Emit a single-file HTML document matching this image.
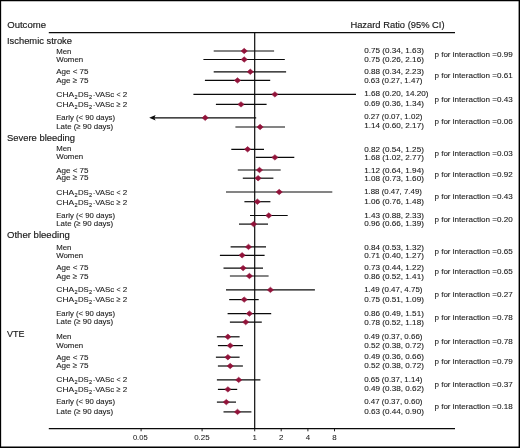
<!DOCTYPE html>
<html lang="en"><head><meta charset="utf-8"><title>Hazard Ratio forest plot</title>
<style>html,body{margin:0;padding:0;background:#fff}body{width:520px;height:448px;overflow:hidden}svg{display:block}text{font-family:"Liberation Sans",Arial,Helvetica,sans-serif;fill:#1a1a1a;stroke:#1a1a1a;stroke-width:0.1px}.h{font-size:9.3px;stroke-width:0.16px}.s{font-size:8.05px}.sub{font-size:5.6px}.ax{font-size:7.9px;stroke-width:0.05px}.ln{stroke:#0a0a0a;stroke-width:1.2}.m{fill:#92133a;stroke:#92133a;stroke-width:0.6;stroke-linejoin:round}</style></head><body>
<svg width="520" height="448" viewBox="0 0 520 448">
<rect x="0" y="0" width="520" height="448" fill="#fff"/>
<path d="M0 0H520V448H0Z M1.15 1.15V446.55H518.6V1.15Z" fill="#000" fill-rule="evenodd"/>
<text class="h" x="7.2" y="27.8" textLength="38.8" lengthAdjust="spacingAndGlyphs">Outcome</text>
<text class="h" x="350.4" y="27.7" textLength="94.2" lengthAdjust="spacingAndGlyphs">Hazard Ratio (95% CI)</text>
<line class="ln" x1="48.8" y1="32.7" x2="455" y2="32.7" style="stroke-width:1.3"/>
<line class="ln" x1="48.8" y1="428.6" x2="455" y2="428.6" style="stroke-width:1.3"/>
<line class="ln" x1="254.7" y1="32.7" x2="254.7" y2="428.6" style="stroke-width:1.2"/>
<line class="ln" x1="141.1" y1="428.6" x2="141.1" y2="431.3" style="stroke-width:0.9"/>
<text class="ax" x="132.9" y="440.4" textLength="14.8" lengthAdjust="spacingAndGlyphs">0.05</text>
<line class="ln" x1="202.1" y1="428.6" x2="202.1" y2="431.3" style="stroke-width:0.9"/>
<text class="ax" x="194.2" y="440.4" textLength="15.5" lengthAdjust="spacingAndGlyphs">0.25</text>
<line class="ln" x1="254.7" y1="428.6" x2="254.7" y2="431.3" style="stroke-width:0.9"/>
<text class="ax" x="254.7" y="440.4" text-anchor="middle">1</text>
<line class="ln" x1="281.2" y1="428.6" x2="281.2" y2="431.3" style="stroke-width:0.9"/>
<text class="ax" x="281.2" y="440.4" text-anchor="middle">2</text>
<line class="ln" x1="307.9" y1="428.6" x2="307.9" y2="431.3" style="stroke-width:0.9"/>
<text class="ax" x="307.9" y="440.4" text-anchor="middle">4</text>
<line class="ln" x1="334.5" y1="428.6" x2="334.5" y2="431.3" style="stroke-width:0.9"/>
<text class="ax" x="334.5" y="440.4" text-anchor="middle">8</text>
<text class="h" x="7.0" y="43.6" textLength="65.0" lengthAdjust="spacingAndGlyphs">Ischemic stroke</text>
<text class="s" x="56.2" y="53.7" textLength="15.2" lengthAdjust="spacingAndGlyphs">Men</text>
<line class="ln" x1="213.7" y1="51.0" x2="274.1" y2="51.0"/>
<polygon class="m" points="241.1,51.0 244.2,48.3 247.3,51.0 244.2,53.7"/>
<text class="s" x="364.2" y="53.3" textLength="59.7" lengthAdjust="spacingAndGlyphs">0.75 (0.34, 1.63)</text>
<text class="s" x="56.2" y="61.5" textLength="27.0" lengthAdjust="spacingAndGlyphs">Women</text>
<line class="ln" x1="203.4" y1="59.5" x2="284.8" y2="59.5"/>
<polygon class="m" points="241.1,59.5 244.2,56.8 247.3,59.5 244.2,62.2"/>
<text class="s" x="364.2" y="61.5" textLength="59.7" lengthAdjust="spacingAndGlyphs">0.75 (0.26, 2.16)</text>
<text class="s" x="56.2" y="74.2" textLength="32.3" lengthAdjust="spacingAndGlyphs">Age &lt; 75</text>
<line class="ln" x1="213.7" y1="71.8" x2="286.1" y2="71.8"/>
<polygon class="m" points="247.2,71.8 250.3,69.1 253.4,71.8 250.3,74.5"/>
<text class="s" x="364.2" y="74.2" textLength="59.7" lengthAdjust="spacingAndGlyphs">0.88 (0.34, 2.23)</text>
<text class="s" x="56.2" y="82.7" textLength="32.3" lengthAdjust="spacingAndGlyphs">Age ≥ 75</text>
<line class="ln" x1="204.9" y1="80.4" x2="270.2" y2="80.4"/>
<polygon class="m" points="234.4,80.4 237.5,77.7 240.6,80.4 237.5,83.1"/>
<text class="s" x="364.2" y="82.7" textLength="58.3" lengthAdjust="spacingAndGlyphs">0.63 (0.27, 1.47)</text>
<text class="s" x="56.3" y="96.9" textLength="17.9" lengthAdjust="spacingAndGlyphs">CHA</text>
<text class="sub" x="74.4" y="98.9" textLength="3.1" lengthAdjust="spacingAndGlyphs">2</text>
<text class="s" x="78.0" y="96.9" textLength="10.8" lengthAdjust="spacingAndGlyphs">DS</text>
<text class="sub" x="89.0" y="98.9" textLength="3.1" lengthAdjust="spacingAndGlyphs">2</text>
<text class="s" x="93.3" y="96.9" textLength="1.8" lengthAdjust="spacingAndGlyphs">-</text>
<text class="s" x="95.2" y="96.9" textLength="19.1" lengthAdjust="spacingAndGlyphs">VASc</text>
<text class="s" x="116.6" y="96.9" textLength="4.0" lengthAdjust="spacingAndGlyphs">&lt;</text>
<text class="s" x="122.7" y="96.9" textLength="4.5" lengthAdjust="spacingAndGlyphs">2</text>
<line class="ln" x1="193.4" y1="94.4" x2="356.0" y2="94.4"/>
<polygon class="m" points="271.8,94.4 274.9,91.7 278.0,94.4 274.9,97.1"/>
<text class="s" x="364.2" y="95.9" textLength="64.3" lengthAdjust="spacingAndGlyphs">1.68 (0.20, 14.20)</text>
<text class="s" x="56.3" y="107.0" textLength="17.9" lengthAdjust="spacingAndGlyphs">CHA</text>
<text class="sub" x="74.4" y="109.0" textLength="3.1" lengthAdjust="spacingAndGlyphs">2</text>
<text class="s" x="78.0" y="107.0" textLength="10.8" lengthAdjust="spacingAndGlyphs">DS</text>
<text class="sub" x="89.0" y="109.0" textLength="3.1" lengthAdjust="spacingAndGlyphs">2</text>
<text class="s" x="93.3" y="107.0" textLength="1.8" lengthAdjust="spacingAndGlyphs">-</text>
<text class="s" x="95.2" y="107.0" textLength="19.1" lengthAdjust="spacingAndGlyphs">VASc</text>
<text class="s" x="116.6" y="107.0" textLength="4.0" lengthAdjust="spacingAndGlyphs">≥</text>
<text class="s" x="122.7" y="107.0" textLength="4.5" lengthAdjust="spacingAndGlyphs">2</text>
<line class="ln" x1="215.9" y1="104.4" x2="266.6" y2="104.4"/>
<polygon class="m" points="237.9,104.4 241.0,101.7 244.1,104.4 241.0,107.1"/>
<text class="s" x="364.2" y="106.3" textLength="59.7" lengthAdjust="spacingAndGlyphs">0.69 (0.36, 1.34)</text>
<text class="s" x="56.2" y="120.4" textLength="58.8" lengthAdjust="spacingAndGlyphs">Early (&lt; 90 days)</text>
<polygon points="149.2,117.8 155.6,115.1 154.4,117.8 155.6,120.5" fill="#111"/>
<line class="ln" x1="152.5" y1="117.8" x2="256.2" y2="117.8"/>
<polygon class="m" points="202.1,117.8 205.2,115.1 208.3,117.8 205.2,120.5"/>
<text class="s" x="364.2" y="119.4" textLength="58.3" lengthAdjust="spacingAndGlyphs">0.27 (0.07, 1.02)</text>
<text class="s" x="56.2" y="128.9" textLength="56.9" lengthAdjust="spacingAndGlyphs">Late (≥ 90 days)</text>
<line class="ln" x1="235.4" y1="127.0" x2="285.0" y2="127.0"/>
<polygon class="m" points="257.0,127.0 260.1,124.3 263.2,127.0 260.1,129.7"/>
<text class="s" x="364.2" y="128.3" textLength="59.7" lengthAdjust="spacingAndGlyphs">1.14 (0.60, 2.17)</text>
<text class="s" x="434.4" y="57.3" textLength="78.4" lengthAdjust="spacingAndGlyphs">p for interaction =0.99</text>
<text class="s" x="434.4" y="77.8" textLength="78.4" lengthAdjust="spacingAndGlyphs">p for interaction =0.61</text>
<text class="s" x="434.4" y="101.7" textLength="78.4" lengthAdjust="spacingAndGlyphs">p for interaction =0.43</text>
<text class="s" x="434.4" y="124.2" textLength="78.4" lengthAdjust="spacingAndGlyphs">p for interaction =0.06</text>
<text class="h" x="7.0" y="141.3" textLength="68.0" lengthAdjust="spacingAndGlyphs">Severe bleeding</text>
<text class="s" x="56.2" y="151.2" textLength="15.2" lengthAdjust="spacingAndGlyphs">Men</text>
<line class="ln" x1="231.3" y1="149.3" x2="264.0" y2="149.3"/>
<polygon class="m" points="244.5,149.3 247.6,146.6 250.7,149.3 247.6,152.0"/>
<text class="s" x="364.2" y="151.6" textLength="59.7" lengthAdjust="spacingAndGlyphs">0.82 (0.54, 1.25)</text>
<text class="s" x="56.2" y="159.2" textLength="27.0" lengthAdjust="spacingAndGlyphs">Women</text>
<line class="ln" x1="255.6" y1="157.4" x2="294.3" y2="157.4"/>
<polygon class="m" points="271.8,157.4 274.9,154.7 278.0,157.4 274.9,160.1"/>
<text class="s" x="364.2" y="159.5" textLength="59.7" lengthAdjust="spacingAndGlyphs">1.68 (1.02, 2.77)</text>
<text class="s" x="56.2" y="172.8" textLength="32.3" lengthAdjust="spacingAndGlyphs">Age &lt; 75</text>
<line class="ln" x1="237.8" y1="170.0" x2="280.7" y2="170.0"/>
<polygon class="m" points="256.4,170.0 259.5,167.3 262.6,170.0 259.5,172.7"/>
<text class="s" x="364.2" y="172.6" textLength="59.7" lengthAdjust="spacingAndGlyphs">1.12 (0.64, 1.94)</text>
<text class="s" x="56.2" y="180.3" textLength="32.3" lengthAdjust="spacingAndGlyphs">Age ≥ 75</text>
<line class="ln" x1="242.8" y1="178.2" x2="273.4" y2="178.2"/>
<polygon class="m" points="255.0,178.2 258.1,175.5 261.2,178.2 258.1,180.9"/>
<text class="s" x="364.2" y="181.1" textLength="59.7" lengthAdjust="spacingAndGlyphs">1.08 (0.73, 1.60)</text>
<text class="s" x="56.3" y="194.5" textLength="17.9" lengthAdjust="spacingAndGlyphs">CHA</text>
<text class="sub" x="74.4" y="196.5" textLength="3.1" lengthAdjust="spacingAndGlyphs">2</text>
<text class="s" x="78.0" y="194.5" textLength="10.8" lengthAdjust="spacingAndGlyphs">DS</text>
<text class="sub" x="89.0" y="196.5" textLength="3.1" lengthAdjust="spacingAndGlyphs">2</text>
<text class="s" x="93.3" y="194.5" textLength="1.8" lengthAdjust="spacingAndGlyphs">-</text>
<text class="s" x="95.2" y="194.5" textLength="19.1" lengthAdjust="spacingAndGlyphs">VASc</text>
<text class="s" x="116.6" y="194.5" textLength="4.0" lengthAdjust="spacingAndGlyphs">&lt;</text>
<text class="s" x="122.7" y="194.5" textLength="4.5" lengthAdjust="spacingAndGlyphs">2</text>
<line class="ln" x1="226.0" y1="192.0" x2="332.3" y2="192.0"/>
<polygon class="m" points="276.1,192.0 279.2,189.3 282.3,192.0 279.2,194.7"/>
<text class="s" x="364.2" y="194.2" textLength="57.7" lengthAdjust="spacingAndGlyphs">1.88 (0.47, 7.49)</text>
<text class="s" x="56.3" y="204.6" textLength="17.9" lengthAdjust="spacingAndGlyphs">CHA</text>
<text class="sub" x="74.4" y="206.6" textLength="3.1" lengthAdjust="spacingAndGlyphs">2</text>
<text class="s" x="78.0" y="204.6" textLength="10.8" lengthAdjust="spacingAndGlyphs">DS</text>
<text class="sub" x="89.0" y="206.6" textLength="3.1" lengthAdjust="spacingAndGlyphs">2</text>
<text class="s" x="93.3" y="204.6" textLength="1.8" lengthAdjust="spacingAndGlyphs">-</text>
<text class="s" x="95.2" y="204.6" textLength="19.1" lengthAdjust="spacingAndGlyphs">VASc</text>
<text class="s" x="116.6" y="204.6" textLength="4.0" lengthAdjust="spacingAndGlyphs">≥</text>
<text class="s" x="122.7" y="204.6" textLength="4.5" lengthAdjust="spacingAndGlyphs">2</text>
<line class="ln" x1="244.4" y1="201.7" x2="270.4" y2="201.7"/>
<polygon class="m" points="254.3,201.7 257.4,199.0 260.5,201.7 257.4,204.4"/>
<text class="s" x="364.2" y="203.8" textLength="59.7" lengthAdjust="spacingAndGlyphs">1.06 (0.76, 1.48)</text>
<text class="s" x="56.2" y="218.1" textLength="58.8" lengthAdjust="spacingAndGlyphs">Early (&lt; 90 days)</text>
<line class="ln" x1="250.0" y1="215.5" x2="287.7" y2="215.5"/>
<polygon class="m" points="265.7,215.5 268.8,212.8 271.9,215.5 268.8,218.2"/>
<text class="s" x="364.2" y="217.8" textLength="59.7" lengthAdjust="spacingAndGlyphs">1.43 (0.88, 2.33)</text>
<text class="s" x="56.2" y="225.5" textLength="56.9" lengthAdjust="spacingAndGlyphs">Late (≥ 90 days)</text>
<line class="ln" x1="239.0" y1="224.1" x2="268.0" y2="224.1"/>
<polygon class="m" points="250.5,224.1 253.6,221.4 256.7,224.1 253.6,226.8"/>
<text class="s" x="364.2" y="225.9" textLength="59.7" lengthAdjust="spacingAndGlyphs">0.96 (0.66, 1.39)</text>
<text class="s" x="434.4" y="156.1" textLength="78.4" lengthAdjust="spacingAndGlyphs">p for interaction =0.03</text>
<text class="s" x="434.4" y="176.7" textLength="78.4" lengthAdjust="spacingAndGlyphs">p for interaction =0.92</text>
<text class="s" x="434.4" y="199.4" textLength="78.4" lengthAdjust="spacingAndGlyphs">p for interaction =0.43</text>
<text class="s" x="434.4" y="221.8" textLength="78.4" lengthAdjust="spacingAndGlyphs">p for interaction =0.20</text>
<text class="h" x="7.0" y="237.6" textLength="62.8" lengthAdjust="spacingAndGlyphs">Other bleeding</text>
<text class="s" x="56.2" y="249.6" textLength="15.2" lengthAdjust="spacingAndGlyphs">Men</text>
<line class="ln" x1="230.6" y1="246.9" x2="266.0" y2="246.9"/>
<polygon class="m" points="245.4,246.9 248.5,244.2 251.6,246.9 248.5,249.6"/>
<text class="s" x="364.2" y="249.5" textLength="59.7" lengthAdjust="spacingAndGlyphs">0.84 (0.53, 1.32)</text>
<text class="s" x="56.2" y="257.6" textLength="27.0" lengthAdjust="spacingAndGlyphs">Women</text>
<line class="ln" x1="219.9" y1="255.3" x2="264.6" y2="255.3"/>
<polygon class="m" points="239.0,255.3 242.1,252.6 245.2,255.3 242.1,258.0"/>
<text class="s" x="364.2" y="257.9" textLength="59.7" lengthAdjust="spacingAndGlyphs">0.71 (0.40, 1.27)</text>
<text class="s" x="56.2" y="270.4" textLength="32.3" lengthAdjust="spacingAndGlyphs">Age &lt; 75</text>
<line class="ln" x1="223.5" y1="268.1" x2="263.0" y2="268.1"/>
<polygon class="m" points="240.0,268.1 243.1,265.4 246.2,268.1 243.1,270.8"/>
<text class="s" x="364.2" y="270.2" textLength="59.7" lengthAdjust="spacingAndGlyphs">0.73 (0.44, 1.22)</text>
<text class="s" x="56.2" y="278.6" textLength="32.3" lengthAdjust="spacingAndGlyphs">Age ≥ 75</text>
<line class="ln" x1="229.9" y1="276.0" x2="268.6" y2="276.0"/>
<polygon class="m" points="246.3,276.0 249.4,273.3 252.5,276.0 249.4,278.7"/>
<text class="s" x="364.2" y="278.5" textLength="59.7" lengthAdjust="spacingAndGlyphs">0.86 (0.52, 1.41)</text>
<text class="s" x="56.3" y="292.3" textLength="17.9" lengthAdjust="spacingAndGlyphs">CHA</text>
<text class="sub" x="74.4" y="294.3" textLength="3.1" lengthAdjust="spacingAndGlyphs">2</text>
<text class="s" x="78.0" y="292.3" textLength="10.8" lengthAdjust="spacingAndGlyphs">DS</text>
<text class="sub" x="89.0" y="294.3" textLength="3.1" lengthAdjust="spacingAndGlyphs">2</text>
<text class="s" x="93.3" y="292.3" textLength="1.8" lengthAdjust="spacingAndGlyphs">-</text>
<text class="s" x="95.2" y="292.3" textLength="19.1" lengthAdjust="spacingAndGlyphs">VASc</text>
<text class="s" x="116.6" y="292.3" textLength="4.0" lengthAdjust="spacingAndGlyphs">&lt;</text>
<text class="s" x="122.7" y="292.3" textLength="4.5" lengthAdjust="spacingAndGlyphs">2</text>
<line class="ln" x1="226.0" y1="289.9" x2="314.9" y2="289.9"/>
<polygon class="m" points="267.3,289.9 270.4,287.2 273.5,289.9 270.4,292.6"/>
<text class="s" x="364.2" y="292.1" textLength="58.3" lengthAdjust="spacingAndGlyphs">1.49 (0.47, 4.75)</text>
<text class="s" x="56.3" y="302.4" textLength="17.9" lengthAdjust="spacingAndGlyphs">CHA</text>
<text class="sub" x="74.4" y="304.4" textLength="3.1" lengthAdjust="spacingAndGlyphs">2</text>
<text class="s" x="78.0" y="302.4" textLength="10.8" lengthAdjust="spacingAndGlyphs">DS</text>
<text class="sub" x="89.0" y="304.4" textLength="3.1" lengthAdjust="spacingAndGlyphs">2</text>
<text class="s" x="93.3" y="302.4" textLength="1.8" lengthAdjust="spacingAndGlyphs">-</text>
<text class="s" x="95.2" y="302.4" textLength="19.1" lengthAdjust="spacingAndGlyphs">VASc</text>
<text class="s" x="116.6" y="302.4" textLength="4.0" lengthAdjust="spacingAndGlyphs">≥</text>
<text class="s" x="122.7" y="302.4" textLength="4.5" lengthAdjust="spacingAndGlyphs">2</text>
<line class="ln" x1="229.2" y1="299.6" x2="258.7" y2="299.6"/>
<polygon class="m" points="241.1,299.6 244.2,296.9 247.3,299.6 244.2,302.3"/>
<text class="s" x="364.2" y="302.1" textLength="59.7" lengthAdjust="spacingAndGlyphs">0.75 (0.51, 1.09)</text>
<text class="s" x="56.2" y="315.6" textLength="58.8" lengthAdjust="spacingAndGlyphs">Early (&lt; 90 days)</text>
<line class="ln" x1="227.6" y1="313.6" x2="271.2" y2="313.6"/>
<polygon class="m" points="246.3,313.6 249.4,310.9 252.5,313.6 249.4,316.3"/>
<text class="s" x="364.2" y="315.6" textLength="59.7" lengthAdjust="spacingAndGlyphs">0.86 (0.49, 1.51)</text>
<text class="s" x="56.2" y="324.3" textLength="56.9" lengthAdjust="spacingAndGlyphs">Late (≥ 90 days)</text>
<line class="ln" x1="229.9" y1="322.1" x2="261.8" y2="322.1"/>
<polygon class="m" points="242.6,322.1 245.7,319.4 248.8,322.1 245.7,324.8"/>
<text class="s" x="364.2" y="324.5" textLength="59.7" lengthAdjust="spacingAndGlyphs">0.78 (0.52, 1.18)</text>
<text class="s" x="434.4" y="253.8" textLength="78.4" lengthAdjust="spacingAndGlyphs">p for interaction =0.65</text>
<text class="s" x="434.4" y="274.3" textLength="78.4" lengthAdjust="spacingAndGlyphs">p for interaction =0.65</text>
<text class="s" x="434.4" y="296.9" textLength="78.4" lengthAdjust="spacingAndGlyphs">p for interaction =0.27</text>
<text class="s" x="434.4" y="320.4" textLength="78.4" lengthAdjust="spacingAndGlyphs">p for interaction =0.78</text>
<text class="h" x="7.0" y="336.5" textLength="17.4" lengthAdjust="spacingAndGlyphs">VTE</text>
<text class="s" x="56.2" y="339.2" textLength="15.2" lengthAdjust="spacingAndGlyphs">Men</text>
<line class="ln" x1="216.9" y1="336.8" x2="239.6" y2="336.8"/>
<polygon class="m" points="224.8,336.8 227.9,334.1 231.0,336.8 227.9,339.5"/>
<text class="s" x="364.2" y="339.3" textLength="58.3" lengthAdjust="spacingAndGlyphs">0.49 (0.37, 0.66)</text>
<text class="s" x="56.2" y="348.0" textLength="27.0" lengthAdjust="spacingAndGlyphs">Women</text>
<line class="ln" x1="217.9" y1="345.6" x2="242.9" y2="345.6"/>
<polygon class="m" points="227.1,345.6 230.2,342.9 233.3,345.6 230.2,348.3"/>
<text class="s" x="364.2" y="347.8" textLength="59.7" lengthAdjust="spacingAndGlyphs">0.52 (0.38, 0.72)</text>
<text class="s" x="56.2" y="359.8" textLength="32.3" lengthAdjust="spacingAndGlyphs">Age &lt; 75</text>
<line class="ln" x1="215.9" y1="357.2" x2="239.6" y2="357.2"/>
<polygon class="m" points="224.8,357.2 227.9,354.5 231.0,357.2 227.9,359.9"/>
<text class="s" x="364.2" y="359.4" textLength="59.7" lengthAdjust="spacingAndGlyphs">0.49 (0.36, 0.66)</text>
<text class="s" x="56.2" y="368.1" textLength="32.3" lengthAdjust="spacingAndGlyphs">Age ≥ 75</text>
<line class="ln" x1="217.9" y1="366.0" x2="242.9" y2="366.0"/>
<polygon class="m" points="227.1,366.0 230.2,363.3 233.3,366.0 230.2,368.7"/>
<text class="s" x="364.2" y="368.1" textLength="59.7" lengthAdjust="spacingAndGlyphs">0.52 (0.38, 0.72)</text>
<text class="s" x="56.3" y="381.9" textLength="17.9" lengthAdjust="spacingAndGlyphs">CHA</text>
<text class="sub" x="74.4" y="383.9" textLength="3.1" lengthAdjust="spacingAndGlyphs">2</text>
<text class="s" x="78.0" y="381.9" textLength="10.8" lengthAdjust="spacingAndGlyphs">DS</text>
<text class="sub" x="89.0" y="383.9" textLength="3.1" lengthAdjust="spacingAndGlyphs">2</text>
<text class="s" x="93.3" y="381.9" textLength="1.8" lengthAdjust="spacingAndGlyphs">-</text>
<text class="s" x="95.2" y="381.9" textLength="19.1" lengthAdjust="spacingAndGlyphs">VASc</text>
<text class="s" x="116.6" y="381.9" textLength="4.0" lengthAdjust="spacingAndGlyphs">&lt;</text>
<text class="s" x="122.7" y="381.9" textLength="4.5" lengthAdjust="spacingAndGlyphs">2</text>
<line class="ln" x1="216.9" y1="379.9" x2="260.4" y2="379.9"/>
<polygon class="m" points="235.6,379.9 238.7,377.2 241.8,379.9 238.7,382.6"/>
<text class="s" x="364.2" y="381.9" textLength="58.3" lengthAdjust="spacingAndGlyphs">0.65 (0.37, 1.14)</text>
<text class="s" x="56.3" y="391.5" textLength="17.9" lengthAdjust="spacingAndGlyphs">CHA</text>
<text class="sub" x="74.4" y="393.5" textLength="3.1" lengthAdjust="spacingAndGlyphs">2</text>
<text class="s" x="78.0" y="391.5" textLength="10.8" lengthAdjust="spacingAndGlyphs">DS</text>
<text class="sub" x="89.0" y="393.5" textLength="3.1" lengthAdjust="spacingAndGlyphs">2</text>
<text class="s" x="93.3" y="391.5" textLength="1.8" lengthAdjust="spacingAndGlyphs">-</text>
<text class="s" x="95.2" y="391.5" textLength="19.1" lengthAdjust="spacingAndGlyphs">VASc</text>
<text class="s" x="116.6" y="391.5" textLength="4.0" lengthAdjust="spacingAndGlyphs">≥</text>
<text class="s" x="122.7" y="391.5" textLength="4.5" lengthAdjust="spacingAndGlyphs">2</text>
<line class="ln" x1="217.9" y1="389.4" x2="237.2" y2="389.4"/>
<polygon class="m" points="224.8,389.4 227.9,386.7 231.0,389.4 227.9,392.1"/>
<text class="s" x="364.2" y="390.9" textLength="59.7" lengthAdjust="spacingAndGlyphs">0.49 (0.38, 0.62)</text>
<text class="s" x="56.2" y="404.2" textLength="58.8" lengthAdjust="spacingAndGlyphs">Early (&lt; 90 days)</text>
<line class="ln" x1="216.9" y1="402.1" x2="236.0" y2="402.1"/>
<polygon class="m" points="223.2,402.1 226.3,399.4 229.4,402.1 226.3,404.8"/>
<text class="s" x="364.2" y="404.1" textLength="58.3" lengthAdjust="spacingAndGlyphs">0.47 (0.37, 0.60)</text>
<text class="s" x="56.2" y="414.3" textLength="56.9" lengthAdjust="spacingAndGlyphs">Late (≥ 90 days)</text>
<line class="ln" x1="223.5" y1="411.9" x2="251.4" y2="411.9"/>
<polygon class="m" points="234.4,411.9 237.5,409.2 240.6,411.9 237.5,414.6"/>
<text class="s" x="364.2" y="413.9" textLength="59.7" lengthAdjust="spacingAndGlyphs">0.63 (0.44, 0.90)</text>
<text class="s" x="434.4" y="344.1" textLength="78.4" lengthAdjust="spacingAndGlyphs">p for interaction =0.78</text>
<text class="s" x="434.4" y="363.9" textLength="78.4" lengthAdjust="spacingAndGlyphs">p for interaction =0.79</text>
<text class="s" x="434.4" y="387.1" textLength="78.4" lengthAdjust="spacingAndGlyphs">p for interaction =0.37</text>
<text class="s" x="434.4" y="408.8" textLength="78.4" lengthAdjust="spacingAndGlyphs">p for interaction =0.18</text>
</svg></body></html>
